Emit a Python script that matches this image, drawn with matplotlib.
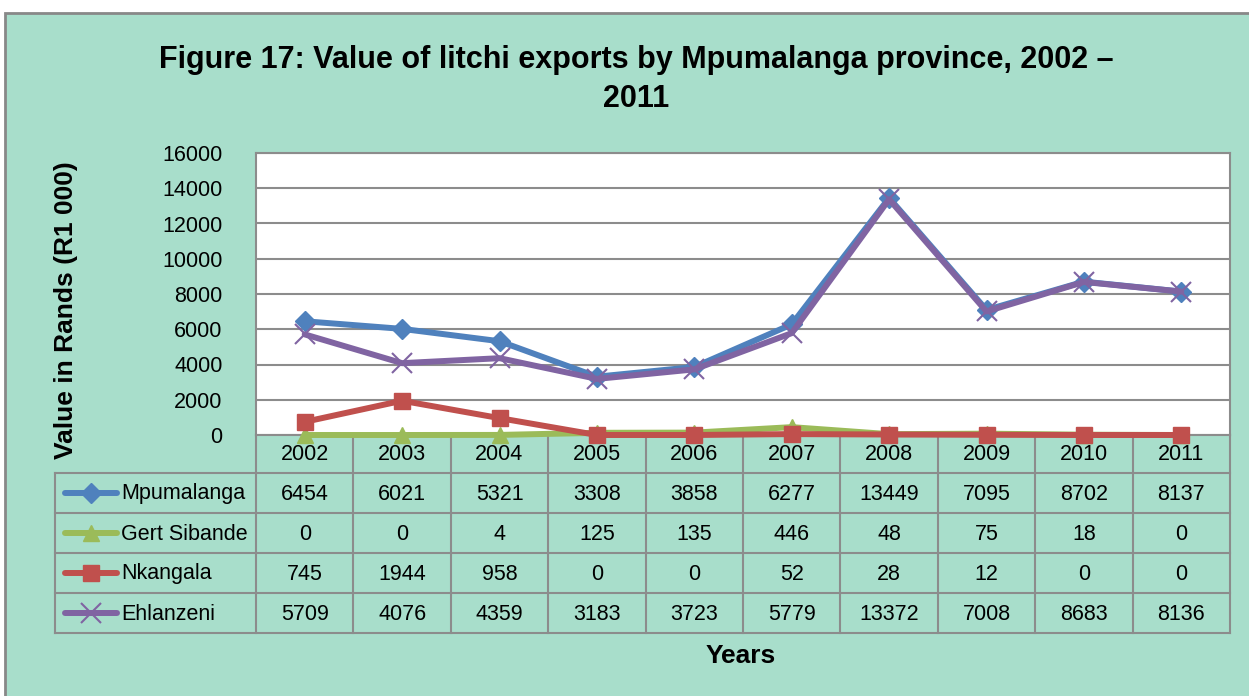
import matplotlib.pyplot as plt
from matplotlib.patches import Rectangle
from matplotlib.lines import Line2D

years = ['2002', '2003', '2004', '2005', '2006', '2007', '2008', '2009', '2010', '2011']
mpumalanga = [6454, 6021, 5321, 3308, 3858, 6277, 13449, 7095, 8702, 8137]
gert_sibande = [0, 0, 4, 125, 135, 446, 48, 75, 18, 0]
nkangala = [745, 1944, 958, 0, 0, 52, 28, 12, 0, 0]
ehlanzeni = [5709, 4076, 4359, 3183, 3723, 5779, 13372, 7008, 8683, 8136]

series_names = ['Mpumalanga', 'Gert Sibande', 'Nkangala', 'Ehlanzeni']
series_values = [mpumalanga, gert_sibande, nkangala, ehlanzeni]
colors = ['#4F81BD', '#9BBB59', '#C0504D', '#8064A2']
markers = ['D', '^', 's', 'x']
msizes = [10, 11, 12, 14]

plt.rcParams['font.family'] = ['Liberation Sans', 'DejaVu Sans']

W, H = 1249, 696
fig = plt.figure(figsize=(W / 100, H / 100), dpi=100)
fig.patch.set_facecolor('white')

mint = '#A8DECB'
grid_c = '#8C8C8C'
fs = 15.5

def fx(px):
    return px / W

def fy(py):
    return 1 - py / H

# chart area background with border
fig.patches.append(Rectangle((fx(5), fy(H + 5)), fx(W), fy(13) - fy(H + 5),
                             transform=fig.transFigure, facecolor=mint,
                             edgecolor='#888888', linewidth=2, zorder=-5))

# plot area
L, R, T, B = 256, 1230, 153, 435
ax = fig.add_axes([fx(L), fy(B), fx(R - L), fy(T) - fy(B)])
ax.set_zorder(2)
ax.set_facecolor('white')
x = list(range(len(years)))
for name, vals, c, m, ms in zip(series_names, series_values, colors, markers, msizes):
    ax.plot(x, vals, color=c, lw=4.3, marker=m, markersize=ms,
            markeredgewidth=1.5 if m == 'x' else 1, markeredgecolor=c,
            solid_capstyle='round', label=name, clip_on=False, zorder=3)

ax.set_xlim(-0.5, len(years) - 0.5)
ax.set_ylim(0, 16000)
ax.set_yticks(range(0, 16001, 2000))
ax.set_yticklabels([str(v) for v in range(0, 16001, 2000)], fontsize=fs)
ax.set_xticks([])
ax.tick_params(axis='y', length=0, pad=24)
ax.grid(axis='y', color=grid_c, lw=1.5)
ax.set_axisbelow(True)
for s in ax.spines.values():
    s.set_color(grid_c)
    s.set_linewidth(1.5)

# data table below the plot area
row_h = 40
header_bot = 473
col_w = (R - L) / len(years)
tab_left = 55
tab_bot = header_bot + row_h * len(series_names)
lk = dict(color=grid_c, lw=1.5, transform=fig.transFigure)

for k in range(len(years) + 1):
    xx = L + k * col_w
    fig.add_artist(Line2D([fx(xx), fx(xx)], [fy(B), fy(tab_bot)], **lk))
for yy in [header_bot + i * row_h for i in range(len(series_names) + 1)]:
    fig.add_artist(Line2D([fx(tab_left), fx(R)], [fy(yy), fy(yy)], **lk))
fig.add_artist(Line2D([fx(tab_left), fx(tab_left)], [fy(header_bot), fy(tab_bot)], **lk))

for i, yr in enumerate(years):
    fig.text(fx(L + (i + 0.5) * col_w), fy((B + header_bot) / 2 + 1), yr,
             ha='center', va='center', fontsize=fs)

for r, (name, vals, c, m, ms) in enumerate(zip(series_names, series_values, colors, markers, msizes)):
    yc = header_bot + (r + 0.5) * row_h
    fig.add_artist(Line2D([fx(65), fx(117)], [fy(yc), fy(yc)], color=c, lw=4.3,
                          solid_capstyle='round', transform=fig.transFigure))
    fig.add_artist(Line2D([fx(91)], [fy(yc)], color=c, marker=m, markersize=ms,
                          markeredgewidth=1.5 if m == 'x' else 1, markeredgecolor=c,
                          transform=fig.transFigure))
    fig.text(fx(121), fy(yc + 1), name, ha='left', va='center', fontsize=fs)
    for i, v in enumerate(vals):
        fig.text(fx(L + (i + 0.5) * col_w), fy(yc + 1), str(v),
                 ha='center', va='center', fontsize=fs)

# titles
fig.text(fx(636), fy(60), 'Figure 17: Value of litchi exports by Mpumalanga province, 2002 \u2013',
         ha='center', va='center', fontsize=22, fontweight='bold')
fig.text(fx(636), fy(99), '2011', ha='center', va='center', fontsize=22, fontweight='bold')
fig.text(fx(66), fy(310), 'Value in Rands (R1 000)', rotation=90, ha='center', va='center',
         fontsize=19, fontweight='bold')
fig.text(fx(741), fy(656), 'Years', ha='center', va='center', fontsize=19, fontweight='bold')

fig.savefig('out.png', dpi=100, facecolor=fig.get_facecolor())
